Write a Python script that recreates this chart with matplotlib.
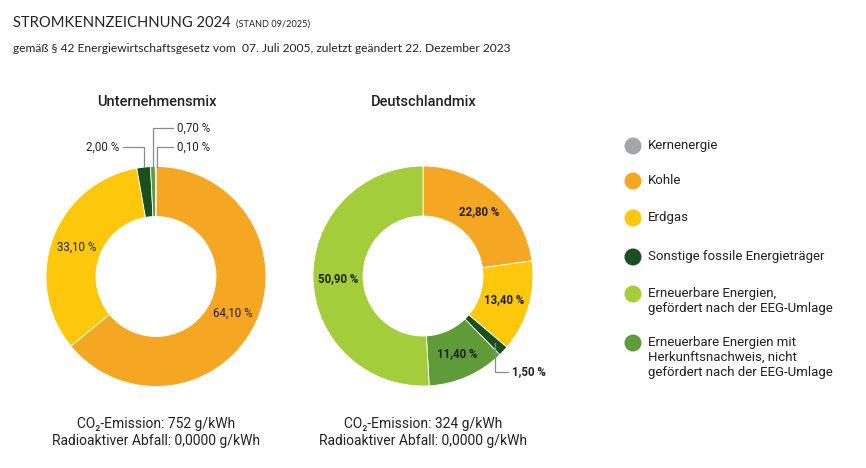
import numpy as np
import matplotlib
matplotlib.use("Agg")
import matplotlib.pyplot as plt

# ---- data ----
categories = ["Kernenergie", "Kohle", "Erdgas", "Sonstige fossile Energieträger",
              "Erneuerbare Energien mit\nHerkunftsnachweis, nicht\ngefördert nach der EEG-Umlage",
              "Erneuerbare Energien,\ngefördert nach der EEG-Umlage"]
colors = ["#a3a6a9", "#f5a623", "#fdc80b", "#1b4f20", "#5f9b38", "#a4cd3c"]
unternehmensmix = [0.0, 64.10, 33.10, 2.00, 0.70, 0.10]
deutschlandmix = [0.0, 22.80, 13.40, 1.50, 11.40, 50.90]
legend_order = [0, 1, 2, 3, 5, 4]
co2 = [752, 324]
abfall = ["0,0000", "0,0000"]
chart_titles = ["Unternehmensmix", "Deutschlandmix"]

W, H = 866, 468
fig = plt.figure(figsize=(W / 100, H / 100), dpi=100)
ax = fig.add_axes([0, 0, 1, 1])
ax.set_axis_off()

def Y(y):
    return H - y

FONT = ["Roboto", "DejaVu Sans"]
LATO = ["Lato", "DejaVu Sans"]
TXT = "#222222"

def fmt(v):
    return ("%.2f" % v).replace(".", ",") + " %"

centers = [(156, 276.5), (423, 276)]
R, RIN = 110, 60

def angle_mid(values, i):
    tot = sum(values)
    start = sum(values[:i]) / tot
    mid = start + values[i] / tot / 2
    return np.deg2rad(90 - mid * 360)

for k, vals in enumerate([unternehmensmix, deutschlandmix]):
    cx, cy = centers[k]
    idx = [i for i, v in enumerate(vals) if v > 0]
    ax.pie([vals[i] for i in idx], colors=[colors[i] for i in idx],
           center=(cx, Y(cy)), radius=R, startangle=90, counterclock=False,
           wedgeprops=dict(width=R - RIN, linewidth=0.6, edgecolor="white"))
    ax.text(cx + 1, Y(102), chart_titles[k], ha="center", va="center",
            fontsize=10.5, family=FONT, fontweight="medium", color=TXT)
    ax.text(cx, Y(424), "CO₂-Emission: %d g/kWh" % co2[k], ha="center", va="center",
            fontsize=10, family=FONT, color=TXT)
    ax.text(cx, Y(441), "Radioaktiver Abfall: %s g/kWh" % abfall[k], ha="center",
            va="center", fontsize=10, family=FONT, color=TXT)

    for i, v in enumerate(vals):
        if v < 5:
            continue
        a = angle_mid(vals, i)
        rm = (R + RIN) / 2
        x = cx + rm * np.cos(a)
        y = Y(cy) + rm * np.sin(a)
        ax.text(x, y, fmt(v), ha="center", va="center", fontsize=8.3,
                family=FONT, fontweight="bold" if k == 1 else "normal",
                color=TXT)

# leader lines, Unternehmensmix small slices
cx, cy = centers[0]
lc = "#8a8a8a"
v = unternehmensmix
# Sonstige 2.00 %
a = angle_mid(v, 3); px = cx + R * np.cos(a)
ax.plot([px, px, 123], [Y(cy) + R * np.sin(a), Y(147), Y(147)], color=lc, lw=0.9)
ax.text(119, Y(147), fmt(v[3]), ha="right", va="center", fontsize=8.3, family=FONT, color=TXT)
# HKN 0.70 %
a = angle_mid(v, 4); px = cx + R * np.cos(a)
ax.plot([px, px, 173], [Y(cy) + R * np.sin(a), Y(128), Y(128)], color=lc, lw=0.9)
ax.text(177, Y(128), fmt(v[4]), ha="left", va="center", fontsize=8.3, family=FONT, color=TXT)
# EEG 0.10 %
a = angle_mid(v, 5); px = cx + R * np.cos(a) + 1.5
ax.plot([px, px, 173], [Y(cy) + R * np.sin(a), Y(147), Y(147)], color=lc, lw=0.9)
ax.text(177, Y(147), fmt(v[5]), ha="left", va="center", fontsize=8.3, family=FONT, color=TXT)

# Deutschlandmix Sonstige 1.50 %
cx, cy = centers[1]
v = deutschlandmix
a = angle_mid(v, 3)
px = cx + (R - 12) * np.cos(a); py = Y(cy) + (R - 12) * np.sin(a)
ax.plot([px, px, 508], [py, Y(372), Y(372)], color=lc, lw=0.9)
ax.text(512, Y(372), fmt(v[3]), ha="left", va="center", fontsize=8.3, family=FONT,
        fontweight="bold", color=TXT)

# legend
leg_y = [145, 180, 217, 256, 293, 342]
for row, i in enumerate(legend_order):
    y = leg_y[row]
    ax.scatter([633], [Y(y + 1)], s=150, color=colors[i], edgecolor="none", zorder=3)
    ax.text(648, Y(y - 6), categories[i], ha="left", va="top", fontsize=9.5,
            family=FONT, color=TXT, linespacing=1.22)

# header
ax.text(13, Y(23), "STROMKENNZEICHNUNG 2024", ha="left", va="center",
        fontsize=10.6, family=LATO, color=TXT)
ax.text(236, Y(24), "(STAND 09/2025)", ha="left", va="center",
        fontsize=6.6, family=LATO, color=TXT)
ax.text(13, Y(48), "gemäß § 42 Energiewirtschaftsgesetz vom  07. Juli 2005, zuletzt geändert 22. Dezember 2023",
        ha="left", va="center", fontsize=8.65, family=LATO, color=TXT)

ax.set_xlim(0, W)
ax.set_ylim(0, H)
ax.set_aspect("equal")
fig.savefig("out.png", dpi=100, facecolor="white")
